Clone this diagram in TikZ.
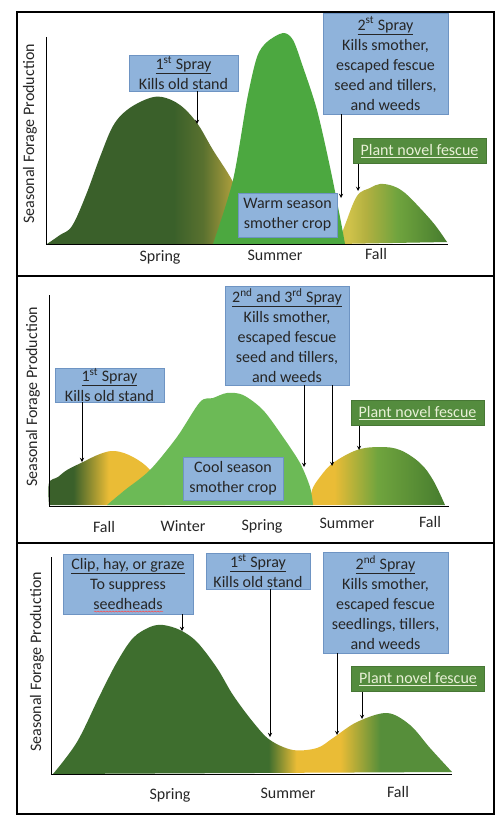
\documentclass[tikz,border=0pt]{standalone}
\usepackage{fontspec}
\setmainfont{Carlito}
\usetikzlibrary{positioning,arrows,decorations.pathmorphing}

\definecolor{boxblue}{RGB}{143,179,219}
\definecolor{boxedge}{RGB}{110,148,195}
\definecolor{olivegreen}{RGB}{58,96,42}
\definecolor{oldgreen}{RGB}{62,110,46}
\definecolor{warmgreen}{RGB}{76,168,64}
\definecolor{coolgreen}{RGB}{108,186,86}
\definecolor{ochre}{RGB}{184,164,62}
\definecolor{lime}{RGB}{208,194,74}
\definecolor{olivelime}{RGB}{178,176,64}
\definecolor{straw}{RGB}{234,188,54}
\definecolor{youngreen}{RGB}{112,164,62}
\definecolor{newgreen}{RGB}{86,142,58}
\definecolor{deepgreen}{RGB}{70,124,46}
\definecolor{plantgreen}{RGB}{84,140,62}
\definecolor{planttext}{RGB}{232,240,214}

% fades across each hill, 25bp = left edge, 75bp = right edge
\pgfdeclarehorizontalshading{springfade}{100bp}{color(0bp)=(olivegreen); color(55bp)=(olivegreen); color(62bp)=(olivegreen!75!ochre); color(70bp)=(ochre); color(100bp)=(ochre)}
\pgfdeclarehorizontalshading{fallfade}{100bp}{color(0bp)=(lime); color(30bp)=(lime); color(38bp)=(olivelime); color(52bp)=(youngreen); color(75bp)=(deepgreen); color(100bp)=(deepgreen)}
\pgfdeclarehorizontalshading{oldfallfade}{100bp}{color(0bp)=(olivegreen); color(36bp)=(olivegreen); color(51bp)=(straw); color(100bp)=(straw)}
\pgfdeclarehorizontalshading{newfallfade}{100bp}{color(0bp)=(straw); color(34bp)=(straw); color(50bp)=(youngreen); color(75bp)=(deepgreen); color(100bp)=(deepgreen)}
\pgfdeclarehorizontalshading{yearfade}{100bp}{color(0bp)=(oldgreen); color(52bp)=(oldgreen); color(55.5bp)=(straw); color(61bp)=(straw); color(66bp)=(newgreen); color(100bp)=(newgreen)}

\tikzset{
  >=stealth,
  txt/.style={font=\fontsize{16}{20}\selectfont, text=black!85},
  spraybox/.style={txt, fill=boxblue, draw=boxedge, line width=.6pt, align=center, inner sep=0pt},
  plantbox/.style={txt, fill=plantgreen, draw=plantgreen!85!black, line width=.6pt, text=planttext, inner sep=0pt, minimum width=133pt, minimum height=25pt},
  axislabel/.style={txt, rotate=90},
  pointer/.style={->, line width=.9pt},
  axisline/.style={line width=1pt}
}

\begin{document}
\begin{tikzpicture}[x=1pt, y=-1pt]
  \useasboundingbox (0,0) rectangle (503,816);
  \fill[white] (0,0) rectangle (503,816);

  % frame
  \draw[line width=1.4pt] (17,12) rectangle (494,814);
  \draw[line width=1.4pt] (17,276) -- (494,276);
  \draw[line width=1.4pt] (17,543) -- (494,543);

  % ---------- panel 1 ----------
  \shade[shading=springfade] plot[smooth, tension=.6] coordinates {(47,244) (60,235) (72,226) (86,195) (100,157) (113,126) (127,110) (147,99) (162,97) (180,105) (197,123) (213,150) (233,182) (250,220) (258,244)} -- cycle;
  \shade[shading=fallfade] plot[smooth, tension=.6] coordinates {(338,244) (345,225) (357,196) (370,188) (380,184) (393,186) (405,193) (420,208) (435,225) (447,242)} -- cycle;
  \fill[warmgreen] plot[smooth, tension=.5] coordinates {(213,244) (233,180) (247,100) (257,57) (267,42) (283,33) (293,40) (303,67) (317,110) (330,167) (340,217) (345,244)} -- cycle;
  \draw[axisline] (46,37) -- (46,244) -- (448,244);

  \node[axislabel] (ylaba) at (30,134) {Seasonal Forage Production};
  \node[txt] (springa) at (160,257) {Spring};
  \node[txt] (summera) at (275,255) {Summer};
  \node[txt] (falla) at (376,254) {Fall};

  \node[spraybox, minimum width=109pt, minimum height=36pt] (spray1a) at (183.5,73) {\underline{1\textsuperscript{st} Spray}\\Kills old stand};
  \node[spraybox, minimum width=125pt, minimum height=101pt] (spray2a) at (385.5,63.5) {\underline{2\textsuperscript{st} Spray}\\Kills smother,\\escaped fescue\\seed and tillers,\\and weeds};
  \node[plantbox] (planta) at (419.5,151) {\underline{Plant novel fescue}};
  \node[spraybox, minimum width=99pt, minimum height=44pt] (smothera) at (287.5,215) {Warm season\\smother crop};

  \coordinate (hit1a) at (197,124);
  \coordinate (hit2a) at (341,198);
  \coordinate (hitpa) at (358,191);
  \draw[pointer] (spray1a.south -| hit1a) -- (hit1a);
  \draw[pointer] (spray2a.south -| hit2a) -- (hit2a);
  \draw[pointer] (planta.south -| hitpa) -- (hitpa);

  % ---------- panel 2 ----------
  \shade[shading=oldfallfade] plot[smooth, tension=.6] coordinates {(49,505) (49,483) (58,477) (67,470) (83,462) (100,454) (115,451) (133,457) (150,470) (160,490) (165,505)} -- cycle;
  \shade[shading=newfallfade] plot[smooth, tension=.6] coordinates {(310,505) (312,490) (320,477) (333,463) (357,450) (380,447) (400,450) (420,463) (433,480) (445,505)} -- cycle;
  \fill[coolgreen] plot[smooth, tension=.5] coordinates {(107,505) (125,490) (150,470) (177,437) (200,402) (213,398) (227,393) (243,395) (263,410) (283,437) (300,463) (310,487) (313,505)} -- cycle;
  \draw[axisline] (49,295) -- (49,506) -- (449,506);

  \node[axislabel] (ylabb) at (33,397) {Seasonal Forage Production};
  \node[txt] (fallb) at (104,527) {Fall};
  \node[txt] (winterb) at (183,526) {Winter};
  \node[txt] (springb) at (262,526) {Spring};
  \node[txt] (summerb) at (347,523) {Summer};
  \node[txt] (fallbb) at (430,522) {Fall};

  \node[spraybox, minimum width=109pt, minimum height=34pt] (spray1b) at (109.5,385) {\underline{1\textsuperscript{st} Spray}\\Kills old stand};
  \node[spraybox, minimum width=124pt, minimum height=99pt] (spray2b) at (287,335.5) {\underline{2\textsuperscript{nd} and 3\textsuperscript{rd} Spray}\\Kills smother,\\escaped fescue\\seed and tillers,\\and weeds};
  \node[plantbox] (plantb) at (417.5,413) {\underline{Plant novel fescue}};
  \node[spraybox, minimum width=100pt, minimum height=43pt] (smotherb) at (233,478.5) {Cool season\\smother crop};

  \coordinate (hit1b) at (82,462);
  \coordinate (hit2b) at (304,467);
  \coordinate (hit3b) at (332,466);
  \coordinate (hitpb) at (359,450);
  \draw[pointer] (spray1b.south -| hit1b) -- (hit1b);
  \draw[pointer] (spray2b.south -| hit2b) -- (hit2b);
  \draw[pointer] (spray2b.south -| hit3b) -- (hit3b);
  \draw[pointer] (plantb.south -| hitpb) -- (hitpb);

  % ---------- panel 3 ----------
  \shade[shading=yearfade] plot[smooth, tension=.55] coordinates {(53,774) (77,742) (100,695) (117,662) (133,638) (150,627) (163,625) (180,630) (197,642) (217,668) (233,695) (253,722) (270,740) (293,750) (317,748) (333,738) (357,722) (387,713) (410,725) (430,748) (452,772)} -- cycle;
  \draw[axisline] (51,557) -- (51,774) -- (452,774);

  \node[axislabel] (ylabc) at (37,662) {Seasonal Forage Production};
  \node[txt] (springc) at (170,795) {Spring};
  \node[txt] (summerc) at (288,793) {Summer};
  \node[txt] (fallc) at (398,792) {Fall};

  \node[spraybox, minimum width=130pt, minimum height=60pt] (clipc) at (128,584) {\underline{Clip, hay, or graze}\\To suppress\\seedheads};
  \node[spraybox, minimum width=104pt, minimum height=36pt] (spray1c) at (258,571) {\underline{1\textsuperscript{st} Spray}\\Kills old stand};
  \node[spraybox, minimum width=125pt, minimum height=101pt] (spray2c) at (385.5,602.5) {\underline{2\textsuperscript{nd} Spray}\\Kills smother,\\escaped fescue\\seedlings, tillers,\\and weeds};
  \node[plantbox] (plantc) at (418,679) {\underline{Plant novel fescue}};
  \draw[red!70, line width=.5pt, decorate, decoration={snake, amplitude=.5pt, segment length=3pt}] (94,611.5) -- (163,611.5);

  \coordinate (hitcc) at (182,631);
  \coordinate (hit1c) at (270,737);
  \coordinate (hit2c) at (337,735);
  \coordinate (hitpc) at (362,719);
  \draw[pointer] (clipc.south -| hitcc) -- (hitcc);
  \draw[pointer] (spray1c.south -| hit1c) -- (hit1c);
  \draw[pointer] (spray2c.south -| hit2c) -- (hit2c);
  \draw[pointer] (plantc.south -| hitpc) -- (hitpc);
\end{tikzpicture}
\end{document}
